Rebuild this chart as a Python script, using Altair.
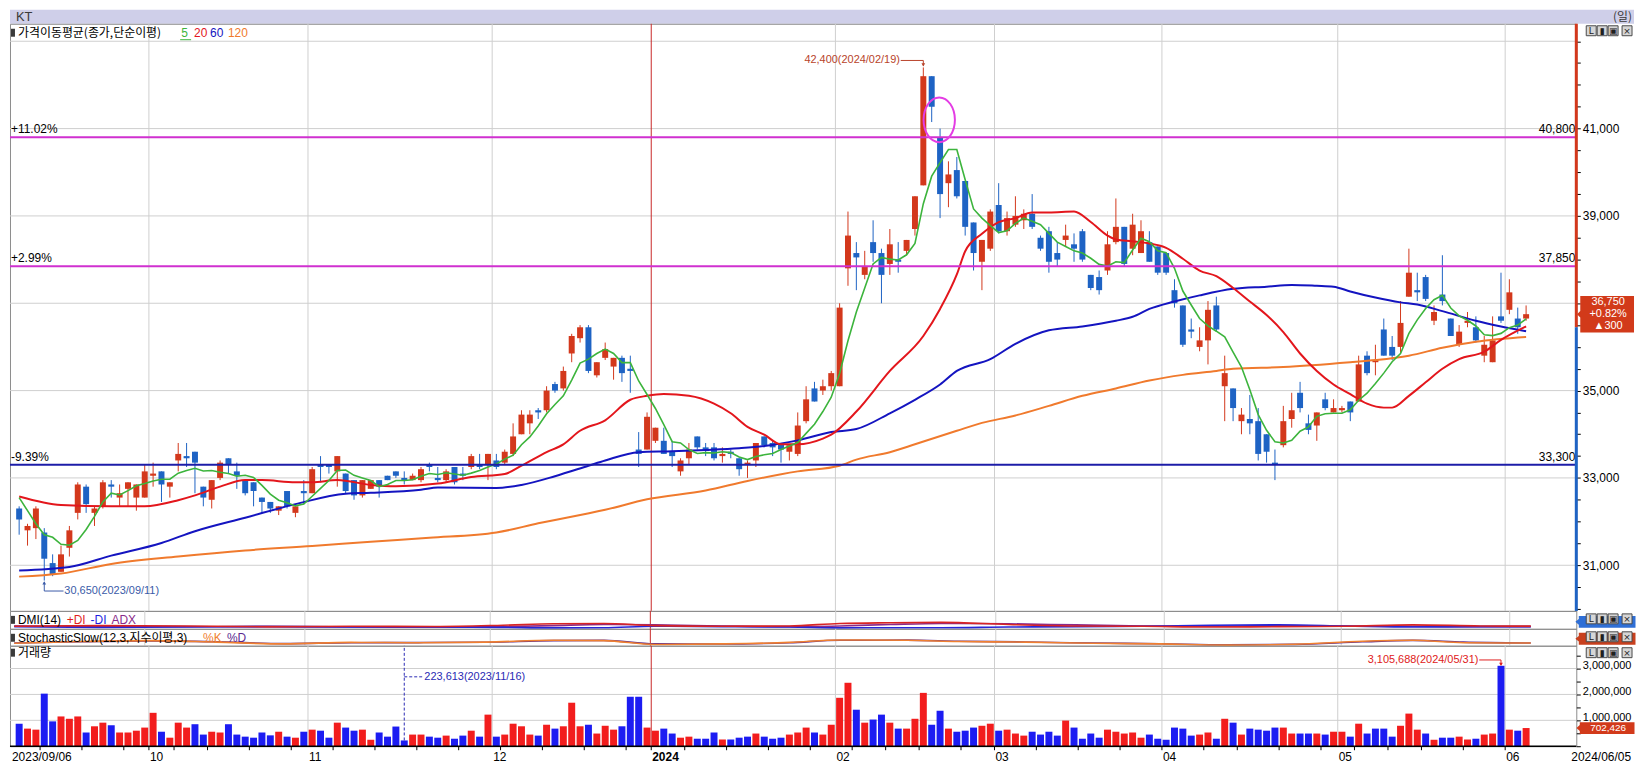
import altair as alt
import pandas as pd

# ---------------- data ----------------
MONTH_DAYS = [
    (2023, 9, [6, 7, 8, 11, 12, 13, 14, 15, 18, 19, 20, 21, 22, 25, 26, 27]),
    (2023, 10, [4, 5, 6, 10, 11, 12, 13, 16, 17, 18, 19, 20, 23, 24, 25, 26, 27, 30, 31]),
    (2023, 11, [1, 2, 3, 6, 7, 8, 9, 10, 13, 14, 15, 16, 17, 20, 21, 22, 23, 24, 27, 28, 29, 30]),
    (2023, 12, [1, 4, 5, 6, 7, 8, 11, 12, 13, 14, 15, 18, 19, 20, 21, 22, 26, 27, 28]),
    (2024, 1, [2, 3, 4, 5, 8, 9, 10, 11, 12, 15, 16, 17, 18, 19, 22, 23, 24, 25, 26, 29, 30, 31]),
    (2024, 2, [1, 2, 5, 6, 7, 8, 13, 14, 15, 16, 19, 20, 21, 22, 23, 26, 27, 28, 29]),
    (2024, 3, [4, 5, 6, 7, 8, 11, 12, 13, 14, 15, 18, 19, 20, 21, 22, 25, 26, 27, 28, 29]),
    (2024, 4, [1, 2, 3, 4, 5, 8, 9, 11, 12, 15, 16, 17, 18, 19, 22, 23, 24, 25, 26, 29, 30]),
    (2024, 5, [2, 3, 7, 8, 9, 10, 13, 14, 16, 17, 20, 21, 22, 23, 24, 27, 28, 29, 30, 31]),
    (2024, 6, [3, 4, 5]),
]
TICK_LABELS = ["10", "11", "12", "2024", "02", "03", "04", "05", "06"]
FIRST_DATE_LABEL = "2023/09/06"
LAST_DATE_LABEL = "2024/06/05"

OPEN = [
    32300, 31800, 31850, 31750, 31050, 30850, 31400, 32200, 32800, 32200,
    32350, 32850, 32550, 32750, 32550, 32550, 33050, 33150, 32800, 33400,
    33500, 33600, 32800, 32500, 33000, 33450, 33150, 32950, 32900, 32550,
    32450, 32250, 32700, 32200, 32700, 32650, 33300, 33300, 33150, 33100,
    32950, 32600, 32750, 32950, 33050, 33150, 33000, 32950, 32950, 33300,
    33000, 32950, 33250, 33100, 33250, 33300, 33300, 33400, 33350, 33550,
    34000, 34250, 34550, 34550, 35150, 35050, 35850, 36200, 36450, 35350,
    35750, 35550, 35750, 35500, 33650, 33650, 33850, 33850, 33600, 33150,
    33450, 33950, 33700, 33700, 33500, 33600, 33450, 33300, 33400, 33950,
    33800, 33800, 33600, 33550, 34300, 35050, 35000, 35100, 35100, 37800,
    38150, 37650, 38400, 38150, 37900, 38000, 38200, 38700, 39700, 42200,
    40800, 39750, 40050, 39800, 38850, 37950, 38250, 39250, 38650, 38800,
    38900, 39050, 38500, 38650, 38150, 38450, 38350, 38650, 37650, 37600,
    37750, 38400, 38750, 38250, 38150, 38400, 38300, 38150, 37300, 36950,
    36400, 36000, 36150, 36950, 35100, 35050, 34300, 34350, 34300, 34000,
    33350, 33750, 34350, 34950, 34250, 34200, 34800, 34500, 34550, 34750,
    34750, 35800, 35650, 36400, 36000, 36000, 37150, 37300, 37600, 36600,
    37200, 36650, 36050, 36550, 36450, 35800, 35650, 36700, 36850, 36650,
    36650,
]
HIGH = [
    32350, 31950, 32350, 31850, 31250, 31450, 31900, 32900, 32850, 32350,
    32950, 32950, 32850, 32900, 32850, 33300, 33350, 33150, 32900, 33800,
    33800, 33600, 32800, 32950, 33400, 33450, 33350, 32950, 32900, 32550,
    32450, 32350, 32700, 32350, 32950, 33250, 33500, 33300, 33500, 33100,
    32950, 32950, 32950, 32950, 33050, 33150, 33150, 33100, 33250, 33350,
    33250, 33200, 33250, 33250, 33550, 33550, 33550, 33550, 33650, 34250,
    34550, 34550, 34600, 35100, 35200, 35550, 36300, 36500, 36500, 35650,
    36100, 35750, 35800, 35800, 34050, 34500, 34150, 34150, 33850, 33450,
    33800, 33950, 33800, 33800, 33700, 33650, 33450, 33400, 33800, 33950,
    33850, 33800, 33750, 34500, 35100, 35200, 35250, 35450, 37000, 39100,
    38400, 38200, 38900, 38250, 38700, 38400, 38450, 39450, 42400, 42200,
    41000, 40250, 40350, 39800, 38850, 38450, 39150, 39750, 39100, 39450,
    39150, 39500, 38550, 38750, 38400, 38800, 38600, 38700, 37650, 37750,
    38650, 39400, 38750, 39050, 38900, 38650, 38300, 38150, 37550, 36950,
    36650, 36450, 37050, 37150, 35800, 35050, 34600, 34900, 34600, 34000,
    33650, 34650, 34950, 35200, 34450, 34500, 34950, 34800, 34650, 34750,
    35800, 35900, 36050, 36650, 36250, 37050, 38250, 37700, 37650, 36950,
    38100, 36650, 36500, 36800, 36700, 36250, 36700, 37700, 37550, 36900,
    36950,
]
LOW = [
    31700, 31450, 31600, 30650, 30750, 30850, 31200, 32050, 32200, 31900,
    32300, 32550, 32350, 32350, 32250, 32550, 32800, 32450, 32550, 33150,
    33250, 32650, 32350, 32300, 32950, 33100, 32750, 32600, 32350, 32200,
    32200, 32150, 32300, 32100, 32400, 32650, 32900, 33100, 32800, 32650,
    32500, 32550, 32750, 32550, 32950, 33000, 32850, 32950, 32900, 33150,
    32900, 32900, 32850, 32950, 33200, 33200, 32950, 33200, 33300, 33500,
    34000, 34000, 34350, 34500, 34950, 35000, 35650, 36100, 35400, 35300,
    35700, 35250, 35200, 34950, 33250, 33650, 33800, 33550, 33250, 33050,
    33300, 33650, 33500, 33400, 33350, 33450, 33050, 33000, 33250, 33700,
    33500, 33350, 33400, 33500, 34250, 34750, 34900, 35000, 35100, 37400,
    37300, 37550, 37950, 37000, 37650, 37700, 38100, 38550, 39700, 41150,
    38950, 39200, 39400, 38550, 37750, 37300, 38200, 38600, 38550, 38750,
    38700, 38700, 38200, 37700, 37850, 38300, 37950, 37950, 37300, 37200,
    37650, 38350, 37850, 38100, 38150, 37950, 37650, 37650, 36900, 36000,
    36200, 35900, 35600, 36350, 34300, 34300, 34000, 34000, 33400, 33350,
    32950, 33700, 34150, 34500, 34000, 33850, 34550, 34500, 34500, 34300,
    34750, 35350, 35350, 35800, 35700, 35850, 37150, 37050, 37050, 36500,
    36950, 36250, 36000, 36450, 36100, 35650, 35650, 36550, 36750, 36300,
    36600,
]
CLOSE = [
    32050, 31900, 32300, 31150, 30800, 31250, 31800, 32850, 32400, 32300,
    32900, 32800, 32650, 32900, 32850, 33150, 33100, 32850, 32900, 33550,
    33450, 33350, 32550, 32950, 33350, 33300, 33050, 32650, 32700, 32450,
    32300, 32350, 32350, 32350, 32650, 33200, 33250, 33250, 33500, 32700,
    32600, 32950, 32950, 32800, 32950, 33050, 32950, 33050, 33200, 33250,
    32950, 33150, 32900, 33050, 33500, 33250, 33550, 33250, 33600, 33950,
    34450, 34450, 34500, 35000, 35000, 35450, 36250, 36450, 35450, 35650,
    35950, 35750, 35400, 35450, 33550, 34400, 34150, 33550, 33500, 33400,
    33650, 33700, 33650, 33450, 33550, 33550, 33200, 33350, 33800, 33750,
    33700, 33650, 33750, 34200, 34800, 34750, 35100, 35400, 36900, 38550,
    38050, 37850, 38150, 37650, 38350, 37950, 38450, 39450, 42200, 41500,
    39500, 39950, 39450, 38750, 38150, 38450, 39100, 38650, 38950, 39000,
    39050, 38750, 38250, 37950, 38000, 38550, 38250, 38000, 37350, 37300,
    38350, 38750, 37900, 38800, 38650, 37950, 37700, 37700, 37000, 36050,
    36350, 36150, 36850, 36400, 35400, 34600, 34450, 34250, 33550, 33600,
    33300, 34300, 34550, 34600, 34100, 34500, 34600, 34600, 34600, 34500,
    35600, 35400, 35700, 35800, 35800, 36550, 37700, 37250, 37100, 36800,
    37050, 36250, 36350, 36600, 36150, 36050, 36150, 36600, 37250, 36450,
    36750,
]
VOLUME = [
    870000, 680000, 640000, 2030000, 960000, 1150000, 1060000, 1150000, 530000, 770000,
    910000, 810000, 530000, 530000, 600000, 720000, 1290000, 560000, 330000, 910000,
    720000, 850000, 450000, 560000, 530000, 850000, 450000, 370000, 330000, 530000,
    420000, 560000, 370000, 330000, 560000, 640000, 600000, 330000, 910000, 720000,
    600000, 640000, 250000, 530000, 370000, 760000, 223613, 450000, 450000, 370000,
    330000, 410000, 290000, 410000, 600000, 370000, 1220000, 370000, 450000, 870000,
    770000, 450000, 410000, 830000, 680000, 770000, 1680000, 770000, 830000, 490000,
    790000, 640000, 770000, 1910000, 1910000, 720000, 600000, 680000, 490000, 330000,
    370000, 290000, 290000, 530000, 260000, 260000, 330000, 370000, 490000, 370000,
    290000, 330000, 450000, 530000, 720000, 530000, 450000, 830000, 1870000, 2450000,
    1410000, 910000, 1030000, 1220000, 910000, 680000, 680000, 1060000, 2060000, 830000,
    1370000, 680000, 560000, 600000, 720000, 790000, 870000, 600000, 640000, 490000,
    410000, 560000, 450000, 560000, 410000, 990000, 720000, 290000, 490000, 330000,
    640000, 560000, 490000, 530000, 330000, 450000, 290000, 250000, 720000, 680000,
    410000, 450000, 530000, 290000, 1060000, 910000, 450000, 680000, 640000, 600000,
    720000, 720000, 490000, 490000, 490000, 490000, 450000, 560000, 560000, 370000,
    870000, 490000, 680000, 680000, 370000, 790000, 1260000, 640000, 490000, 250000,
    330000, 330000, 370000, 260000, 290000, 450000, 490000, 3105688, 640000, 600000,
    702426,
]
# r = red (up) bar, b = blue (down) bar, as seen in the volume panel
VOL_COLOR = "".join([
    "brrbbrrrbr", "rbrrrrrbrr", "rbbrrbbbbb", "brbrbrbbrb", "brrbbbbrrb",
    "brbbrbrbrr", "rrbrbrrrbr", "rrbbbrrbbr", "rbbbrbbbrb", "bbrrrbrrrr",
    "brbbrbrrrb", "brbbbrrbrr", "rbbbbrbbbb", "rrrrrbbbbb", "brrbrbrbbb",
    "brrbbrbrrb", "rbbbbrrrbr", "bbrrbrrbrb", "r",
])

MA5_START = [32550, 32250, 31950, 31700]
MA20_IDX = [0, 5, 11, 15, 19, 21, 24, 27, 29, 33, 35, 38, 42, 45, 50, 54, 58, 60, 63, 65,
            67, 70, 73, 75, 77, 80, 83, 85, 87, 89, 91, 93, 96, 97, 100, 104, 108, 110, 112, 113,
            115, 117, 119, 121, 123, 126, 128, 130, 131, 133, 135, 137, 139, 141, 143, 145, 147, 149, 151, 153,
            155, 157, 159, 161, 163, 164, 166, 168, 170, 172, 175, 177, 180]
MA20_VAL = [32575, 32380, 32350, 32350, 32490, 32600, 32800, 32950, 32950, 32900, 32900, 32950, 32840, 32810, 32870, 33020, 33090, 33280, 33590, 33770,
            34080, 34320, 34790, 34880, 34920, 34880, 34700, 34480, 34170, 33990, 33770, 33770, 33900, 33990, 34520, 35450, 36250, 36870, 37660, 38190,
            38590, 38860, 38950, 39080, 39080, 39100, 38860, 38550, 38460, 38420, 38370, 38270, 38020, 37750, 37620, 37350, 37040, 36730, 36340, 35850,
            35450, 35140, 34920, 34700, 34610, 34610, 34880, 35190, 35500, 35720, 35890, 36160, 36470]
MA60_IDX = [0, 6, 11, 17, 21, 27, 33, 39, 42, 48, 50, 57, 60, 64, 68, 70, 74, 78, 82, 86,
            89, 93, 97, 100, 104, 107, 110, 112, 116, 119, 123, 127, 131, 133, 135, 138, 141, 145, 149, 152,
            155, 157, 159, 162, 165, 167, 170, 174, 177, 180]
MA60_VAL = [30880, 30960, 31220, 31510, 31780, 32090, 32400, 32640, 32660, 32730, 32780, 32770, 32840, 33040, 33280, 33400, 33590, 33610, 33640, 33680,
            33730, 33860, 34050, 34120, 34480, 34790, 35140, 35450, 35720, 36070, 36380, 36470, 36600, 36690, 36870, 37040, 37180, 37330, 37380, 37420,
            37400, 37380, 37270, 37130, 37020, 36970, 36820, 36600, 36470, 36360]
MA120_IDX = [0, 5, 11, 19, 27, 35, 42, 49, 57, 62, 70, 75, 82, 87, 93, 98, 100, 104, 107, 112,
             115, 119, 123, 127, 131, 135, 139, 143, 145, 151, 159, 162, 166, 170, 174, 180]
MA120_VAL = [30740, 30810, 31030, 31200, 31340, 31440, 31540, 31630, 31750, 31960, 32270, 32510, 32710, 32930, 33150, 33280, 33420, 33590, 33770, 34080,
             34260, 34430, 34650, 34880, 35050, 35230, 35360, 35450, 35500, 35540, 35650, 35700, 35800, 35980, 36120, 36230]

LEVELS = [40800, 37850, 33300]
LEVEL_PCT = ["+11.02%", "+2.99%", "-9.39%"]

DMI_IDX = [0, 10, 20, 30, 40, 50, 58, 64, 70, 76, 84, 92, 98, 104, 110, 118, 126, 134, 142, 150, 158, 166, 174, 180]
PLUS_DI = [14, 18, 16, 12, 14, 13, 20, 28, 30, 18, 14, 16, 30, 34, 36, 24, 16, 14, 10, 12, 14, 22, 16, 15]
MINUS_DI = [12, 8, 10, 14, 10, 11, 8, 5, 6, 14, 12, 10, 5, 6, 6, 10, 12, 14, 20, 22, 16, 10, 12, 12]
ADX = [16, 14, 12, 10, 10, 9, 12, 18, 24, 22, 16, 12, 16, 24, 30, 28, 22, 16, 14, 18, 16, 14, 12, 12]
STO_IDX = [0, 8, 16, 24, 32, 40, 48, 56, 64, 70, 76, 84, 92, 98, 106, 112, 120, 128, 136, 144, 152, 160, 166, 172, 180]
STO_K = [40, 70, 85, 60, 30, 55, 50, 60, 90, 85, 20, 30, 55, 95, 90, 70, 60, 40, 30, 10, 25, 75, 90, 50, 45]
STO_D = [45, 65, 80, 65, 35, 50, 52, 58, 85, 88, 30, 28, 50, 90, 92, 75, 62, 45, 32, 15, 22, 65, 88, 60, 45]

CIRCLE_AT = (109.9, 41200)   # hand-drawn magenta ellipse in the reference

# ---------------- styling ----------------
W, HH, PH, DH, SH, VH = 1574, 14, 590, 18, 17, 101
XDOM = [-0.5, 185.4]
PDOM = [29955, 43400]
VDOM = [0, 3880000]
NUMF = "Liberation Sans"
KRF = "Noto Sans CJK KR"
MIXF = "Liberation Sans, Noto Sans CJK KR"
GRID = "#CFCFCF"
C_UP, C_DN = "#D3381C", "#1E63C4"
V_UP, V_DN = "#F21D1D", "#1C1CF2"
MA5_C, MA20_C, MA60_C, MA120_C = "#3CB43C", "#E3161C", "#1414C0", "#F07A2D"
MAGENTA, LVL_BLUE = "#D030D0", "#1C1CA8"
YEARLINE = "#C82828"
HEADER_BG = "#CFCFE9"
TAG_RED, TAG_BLUE = "#C8401E", "#2F6FD6"

# ---------------- derived tables ----------------
dates, month_start = [], []
for yy, mm, days in MONTH_DAYS:
    month_start.append(len(dates))
    dates += [pd.Timestamp(yy, mm, d) for d in days]
N = len(dates)
bounds = [s - 0.5 for s in month_start[1:]]
year_bound = bounds[TICK_LABELS.index("2024")]
wk = [d.isocalendar()[1] for d in dates]
week_b = [i - 0.5 for i in range(1, N) if wk[i] != wk[i - 1]]

cdf = pd.DataFrame({"i": range(N), "o": OPEN, "h": HIGH, "l": LOW, "c": CLOSE})
cdf["col"] = [C_UP if c >= o else C_DN for o, c in zip(OPEN, CLOSE)]
vdf = pd.DataFrame({"i": range(N), "v": VOLUME,
                    "col": [V_UP if ch == "r" else V_DN for ch in VOL_COLOR]})
ma5 = pd.Series(CLOSE, dtype=float).rolling(5).mean().tolist()
ma5[:4] = MA5_START
ma5df = pd.DataFrame({"i": range(N), "v": ma5})

xs = alt.Scale(domain=XDOM, nice=False, zero=False)
ys = alt.Scale(domain=PDOM, nice=False, zero=False)
vs = alt.Scale(domain=VDOM, nice=False)
PAX = alt.Axis(orient="right", values=list(range(30000, 43500, 500)),
               labelExpr="indexof([31000,33000,35000,39000,41000], datum.value) >= 0 ? format(datum.value, ',') : ''",
               tickSize=4, tickColor="#000", domain=False, grid=False, title=None,
               labelFont=NUMF, labelFontSize=12, labelColor="#000", labelPadding=2,
               labelOverlap=False, labelBound=False)
VAX = alt.Axis(orient="right", values=list(range(0, 3880000, 500000)),
               labelExpr="datum.value > 0 && datum.value % 1000000 == 0 ? format(datum.value, ',') : ''",
               tickSize=4, tickColor="#000", domain=False, grid=False, title=None,
               labelFont=NUMF, labelFontSize=11, labelColor="#000", labelPadding=2,
               labelOffset=-3, labelOverlap=False, labelBound=False)


def X(f):
    return alt.X(f + ":Q", scale=xs, axis=None)


def PY(f):
    return alt.Y(f + ":Q", scale=ys, axis=PAX)


def VY(f):
    return alt.Y(f + ":Q", scale=vs, axis=VAX)


def one(**kw):
    return pd.DataFrame({k: [v] for k, v in kw.items()})


def txt(t, x, y, size=12, color="#000", align="left", font=NUMF, weight="normal"):
    return alt.Chart(one(t=t)).mark_text(
        align=align, baseline="middle", fontSize=size, color=color, font=font, fontWeight=weight
    ).encode(x=alt.value(x), y=alt.value(y), text="t:N")


def icon(y):
    return alt.Chart(one(a=0)).mark_rect(color="#3A3A3A").encode(
        x=alt.value(1), x2=alt.value(5), y=alt.value(y - 4), y2=alt.value(y + 4))


def buttons(y):
    out = []
    for k, g in enumerate(["L", "▮", "▣", "×"]):
        x0 = W + 10 + 11 * k + (3 if k == 3 else 0)
        out.append(alt.Chart(one(a=0)).mark_rect(fill="#D6D6D6", stroke="#4A4A4A", strokeWidth=1).encode(
            x=alt.value(x0), x2=alt.value(x0 + 10), y=alt.value(y - 5), y2=alt.value(y + 5)))
        out.append(txt(g, x0 + 5, y, 9, "#202020", "center", "DejaVu Sans"))
    return out


TAG = "M-1.12,0 L-1,-0.1 L-1,-0.21 L1,-0.21 L1,0.21 L-1,0.21 L-1,0.1 Z"


def tag(y, color):
    return alt.Chart(one(a=0)).mark_point(shape=TAG, size=3249, filled=True, color=color,
                                          opacity=1, strokeWidth=0).encode(
        x=alt.value(W + 31), y=alt.value(y))


def vgrid():
    g = alt.Chart(pd.DataFrame({"b": [b for b in bounds if b != year_bound]})).mark_rule(
        color=GRID, strokeWidth=1).encode(x=X("b"))
    r = alt.Chart(pd.DataFrame({"b": [year_bound]})).mark_rule(
        color=YEARLINE, strokeWidth=1).encode(x=X("b"))
    return [g, r]


# ---------------- header band ----------------
header = alt.layer(
    alt.Chart(one(a=0)).mark_rect(color=HEADER_BG).encode(
        x=alt.value(0), x2=alt.value(W + 58), y=alt.value(0), y2=alt.value(HH)),
    txt("KT", 6, 7, 13, "#3A3A3A"),
    txt("(일)", W + 56, 7, 12, "#3A3A3A", "right", KRF),
).properties(width=W, height=HH, view=alt.ViewBackground(strokeWidth=0))

# ---------------- price panel ----------------
hgrid = alt.Chart(pd.DataFrame({"p": list(range(31000, 43001, 2000))})).mark_rule(
    color=GRID, strokeWidth=1).encode(y=PY("p"))
wick = alt.Chart(cdf).mark_rule(strokeWidth=1).encode(
    x=X("i"), y=PY("l"), y2="h:Q", color=alt.Color("col:N", scale=None))
body = alt.Chart(cdf).mark_bar(size=6).encode(
    x=X("i"), y=PY("o"), y2="c:Q", color=alt.Color("col:N", scale=None))


def ma_line(idx, val, color, width):
    return alt.Chart(pd.DataFrame({"i": idx, "v": val})).mark_line(
        color=color, strokeWidth=width, interpolate="monotone").encode(x=X("i"), y=PY("v"))


ma120 = ma_line(MA120_IDX, MA120_VAL, MA120_C, 2)
ma60 = ma_line(MA60_IDX, MA60_VAL, MA60_C, 2)
ma20 = ma_line(MA20_IDX, MA20_VAL, MA20_C, 2)
ma5l = alt.Chart(ma5df).mark_line(color=MA5_C, strokeWidth=1.6).encode(x=X("i"), y=PY("v"))

ldf = pd.DataFrame({"p": LEVELS, "pct": LEVEL_PCT, "lab": [f"{p:,}" for p in LEVELS],
                    "col": [MAGENTA, MAGENTA, LVL_BLUE]})
lvl = alt.Chart(ldf).mark_rule(strokeWidth=2).encode(y=PY("p"), color=alt.Color("col:N", scale=None))
lvl_l = alt.Chart(ldf).mark_text(align="left", baseline="bottom", dy=-1, fontSize=12,
                                 font=NUMF, color="#000").encode(x=alt.value(1), y=PY("p"), text="pct:N")
lvl_r = alt.Chart(ldf).mark_text(align="right", baseline="bottom", dy=-1, fontSize=12,
                                 font=NUMF, color="#000").encode(x=alt.value(W - 1), y=PY("p"), text="lab:N")

ELLIPSE = ("M-0.7,0 C-0.7,-0.5523 -0.3866,-1 0,-1 C0.3866,-1 0.7,-0.5523 0.7,0 "
           "C0.7,0.5523 0.3866,1 0,1 C-0.3866,1 -0.7,0.5523 -0.7,0 Z")
ellipse = alt.Chart(one(i=CIRCLE_AT[0], p=CIRCLE_AT[1])).mark_point(
    shape=ELLIPSE, size=2025, filled=False, color="#E43CE4", strokeWidth=2, opacity=1
).encode(x=X("i"), y=PY("p"))

# max / min annotations
imax = HIGH.index(max(HIGH))
hi = max(HIGH)
hi_y = hi + 160
HI_C = "#B8432A"
hi_h = alt.Chart(one(a=imax - 2.7, b=imax, y=hi_y)).mark_rule(color=HI_C).encode(x=X("a"), x2="b:Q", y=PY("y"))
hi_v = alt.Chart(one(i=imax, a=hi_y, b=hi + 40)).mark_rule(color=HI_C).encode(x=X("i"), y=PY("a"), y2="b:Q")
hi_t = alt.Chart(one(i=imax, p=hi + 60)).mark_point(shape="triangle-down", filled=True, size=14,
                                                    color=HI_C, opacity=1).encode(x=X("i"), y=PY("p"))
hi_txt = alt.Chart(one(i=imax - 2.8, p=hi_y, t=f"{hi:,}({dates[imax].strftime('%Y/%m/%d')})")).mark_text(
    align="right", baseline="middle", fontSize=11, font=NUMF, color=HI_C).encode(x=X("i"), y=PY("p"), text="t:N")

imin = LOW.index(min(LOW))
lo = min(LOW)
lo_y = lo - 240
LO_C = "#3A5BA8"
lo_v = alt.Chart(one(i=imin, a=lo - 40, b=lo_y)).mark_rule(color=LO_C).encode(x=X("i"), y=PY("a"), y2="b:Q")
lo_h = alt.Chart(one(a=imin, b=imin + 2.3, y=lo_y)).mark_rule(color=LO_C).encode(x=X("a"), x2="b:Q", y=PY("y"))
lo_t = alt.Chart(one(i=imin, p=lo - 55)).mark_point(shape="triangle-up", filled=True, size=14,
                                                   color=LO_C, opacity=1).encode(x=X("i"), y=PY("p"))
lo_txt = alt.Chart(one(i=imin + 2.4, p=lo_y, t=f"{lo:,}({dates[imin].strftime('%Y/%m/%d')})")).mark_text(
    align="left", baseline="middle", fontSize=11, font=NUMF, color=LO_C).encode(x=X("i"), y=PY("p"), text="t:N")

# right axis line coloured around the previous close, current price box
prev, last = CLOSE[-2], CLOSE[-1]
axdf = pd.DataFrame({"a": [PDOM[1], prev], "b": [prev, PDOM[0]], "col": [C_UP, C_DN]})
axline = alt.Chart(axdf).mark_rule(strokeWidth=3).encode(
    x=alt.value(W), y=PY("a"), y2="b:Q", color=alt.Color("col:N", scale=None))
BOX = "M-1.12,0 L-1,-0.12 L-1,-0.68 L1,-0.68 L1,0.68 L-1,0.68 L-1,0.12 Z"
pbox = alt.Chart(one(p=last)).mark_point(shape=BOX, size=2916, filled=True, color="#D23A1A",
                                          opacity=1, strokeWidth=0).encode(x=alt.value(W + 31), y=PY("p"))
chg = last - prev
box_lines = [f"{last:,}", f"+{chg / prev * 100:.2f}%", f"▲{chg}"]
pbox_txt = [alt.Chart(one(p=last, t=t)).mark_text(
    align="center", baseline="middle", fontSize=11, font=MIXF, color="white", dy=dy
).encode(x=alt.value(W + 32), y=PY("p"), text="t:N") for t, dy in zip(box_lines, [-12, 0, 12])]

price = alt.layer(
    hgrid, *vgrid(), wick, body, ma120, ma60, ma20, ma5l, lvl, lvl_l, lvl_r, ellipse,
    hi_h, hi_v, hi_t, hi_txt, lo_v, lo_h, lo_t, lo_txt,
    icon(9), txt("가격이동평균(종가,단순이평)", 8, 9, 12, "#000", font=KRF),
    txt("5", 172, 9, 12, MA5_C, font=NUMF),
    alt.Chart(one(a=0)).mark_rule(color=MA5_C).encode(x=alt.value(171), x2=alt.value(182), y=alt.value(16)),
    txt("20", 185, 9, 12, MA20_C, font=NUMF),
    txt("60", 201, 9, 12, MA60_C, font=NUMF),
    txt("120", 219, 9, 12, MA120_C, font=NUMF),
    axline, pbox, *pbox_txt, *buttons(7),
).properties(width=W, height=PH)

# ---------------- DMI / stochastic panels ----------------
dys = alt.Scale(domain=[0, 100], nice=False)


def small_line(idx, val, color, scale):
    return alt.Chart(pd.DataFrame({"i": idx, "v": val})).mark_line(
        color=color, strokeWidth=1.6, interpolate="monotone").encode(
        x=X("i"), y=alt.Y("v:Q", scale=scale, axis=None))


dmi = alt.layer(
    *vgrid(),
    small_line(DMI_IDX, ADX, "#8A2A8A", dys),
    small_line(DMI_IDX, MINUS_DI, "#2424D8", dys),
    small_line(DMI_IDX, PLUS_DI, "#D82424", dys),
    icon(9), txt("DMI(14)", 8, 9, 12), txt("+DI", 57, 9, 12, "#E01E1E"),
    txt("-DI", 81, 9, 12, "#1E1EE0"), txt("ADX", 102, 9, 12, "#8A2A8A"),
    tag(11, TAG_BLUE), *buttons(8),
).properties(width=W, height=DH)

sys_ = alt.Scale(domain=[0, 280], nice=False)
sto = alt.layer(
    *vgrid(),
    small_line(STO_IDX, STO_D, "#5A2A90", sys_),
    small_line(STO_IDX, STO_K, "#F08030", sys_),
    icon(9), txt("StochasticSlow(12,3,지수이평,3)", 8, 9, 12, "#000", font=MIXF),
    txt("%K", 194, 9, 12, "#F08030"), txt("%D", 218, 9, 12, "#5A2A90"),
    tag(10, TAG_RED), *buttons(8),
).properties(width=W, height=SH)

# ---------------- volume panel ----------------
vgridh = alt.Chart(pd.DataFrame({"v": [1000000, 2000000, 3000000]})).mark_rule(
    color=GRID, strokeWidth=1).encode(y=VY("v"))
vbars = alt.Chart(vdf).mark_bar(size=7).encode(
    x=X("i"), y=VY("v"), color=alt.Color("col:N", scale=None))

ivx = VOLUME.index(max(VOLUME))
vmax = max(VOLUME)
vmax_y = vmax + 225000
VX_C = "#E02020"
vx_h = alt.Chart(one(a=ivx - 2.6, b=ivx, y=vmax_y)).mark_rule(color=VX_C).encode(x=X("a"), x2="b:Q", y=VY("y"))
vx_v = alt.Chart(one(i=ivx, a=vmax_y, b=vmax + 30000)).mark_rule(color=VX_C).encode(x=X("i"), y=VY("a"), y2="b:Q")
vx_t = alt.Chart(one(i=ivx, v=vmax + 55000)).mark_point(shape="triangle-down", filled=True, size=14,
                                                        color=VX_C, opacity=1).encode(x=X("i"), y=VY("v"))
vx_txt = alt.Chart(one(i=ivx - 2.7, v=vmax_y, t=f"{vmax:,}({dates[ivx].strftime('%Y/%m/%d')})")).mark_text(
    align="right", baseline="middle", fontSize=11, font=NUMF, color=VX_C
).encode(x=X("i"), y=VY("v"), text="t:N")

ivn = VOLUME.index(min(VOLUME))
vmin = min(VOLUME)
vmin_y = 2680000
VN_C = "#2A2AB4"
vn_v = alt.Chart(one(i=ivn, a=vmin)).mark_rule(color=VN_C, strokeDash=[3, 2]).encode(
    x=X("i"), y=VY("a"), y2=alt.value(0))
vn_h = alt.Chart(one(a=ivn, b=ivn + 2.3, y=vmin_y)).mark_rule(color=VN_C, strokeDash=[3, 2]).encode(
    x=X("a"), x2="b:Q", y=VY("y"))
vn_txt = alt.Chart(one(i=ivn + 2.4, v=vmin_y, t=f"{vmin:,}({dates[ivn].strftime('%Y/%m/%d')})")).mark_text(
    align="left", baseline="middle", fontSize=11, font=NUMF, color=VN_C).encode(x=X("i"), y=VY("v"), text="t:N")

VBOX = "M-1.12,0 L-1,-0.11 L-1,-0.215 L1,-0.215 L1,0.215 L-1,0.215 L-1,0.11 Z"
vbox = alt.Chart(one(v=VOLUME[-1])).mark_point(shape=VBOX, size=3025, filled=True, color="#D23A1A",
                                                opacity=1, strokeWidth=0).encode(x=alt.value(W + 31), y=VY("v"))
vbox_txt = alt.Chart(one(v=VOLUME[-1], t=f"{VOLUME[-1]:,}")).mark_text(
    align="center", baseline="middle", fontSize=10, font=NUMF, color="white").encode(
    x=alt.value(W + 32), y=VY("v"), text="t:N")

lab_df = pd.DataFrame({"b": bounds, "t": TICK_LABELS})
xlab = alt.Chart(lab_df[lab_df.t != "2024"]).mark_text(
    align="left", baseline="middle", fontSize=12, font=NUMF, color="#000", dx=1).encode(
    x=X("b"), y=alt.value(VH + 11), text="t:N")
xlab_b = alt.Chart(lab_df[lab_df.t == "2024"]).mark_text(
    align="left", baseline="middle", fontSize=12, font=NUMF, color="#000", dx=1, fontWeight="bold").encode(
    x=X("b"), y=alt.value(VH + 11), text="t:N")
wticks = alt.Chart(pd.DataFrame({"b": week_b})).mark_rule(color="#000").encode(
    x=X("b"), y=alt.value(VH), y2=alt.value(VH + 4))
baseline = alt.Chart(one(a=0)).mark_rule(color="#000", strokeWidth=1.5).encode(
    x=alt.value(0), x2=alt.value(W), y=alt.value(VH))

vol = alt.layer(
    vgridh, *vgrid(), vbars, vx_h, vx_v, vx_t, vx_txt, vn_v, vn_h, vn_txt,
    vbox, vbox_txt, xlab, xlab_b, wticks, baseline,
    txt(FIRST_DATE_LABEL, 2, VH + 11, 12), txt(LAST_DATE_LABEL, W + 55, VH + 11, 12, align="right"),
    icon(7), txt("거래량", 8, 7, 12, "#000", font=KRF), *buttons(7),
).properties(width=W, height=VH)

chart = alt.vconcat(header, price, dmi, sto, vol, spacing=0, bounds="flush").properties(
    padding=0
).configure_view(stroke="#8C8C8C", strokeWidth=1)

chart.save("out.html", embed_options={"renderer": "svg", "actions": False})
